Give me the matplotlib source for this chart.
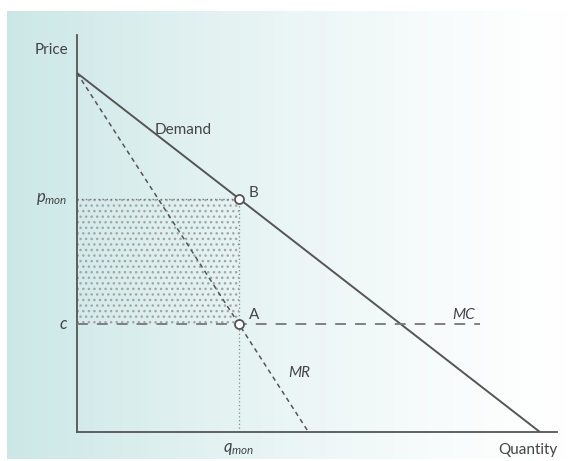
import numpy as np
import matplotlib
matplotlib.use("Agg")
import matplotlib.pyplot as plt
from matplotlib.patches import Rectangle

plt.rcParams["font.family"] = ["Lato", "DejaVu Sans"]
plt.rcParams["mathtext.fontset"] = "custom"
plt.rcParams["mathtext.it"] = "Lato:italic"
plt.rcParams["mathtext.rm"] = "Lato"
plt.rcParams["hatch.linewidth"] = 1.0

# monopoly model values (linear demand P = a - Q)
demand_q = [0.0, 10.0]
demand_p = [10.0, 0.0]
mr_q = [0.0, 5.0]
mr_p = [10.0, 0.0]
mc_q = [0.0, 8.7]
mc_p = [3.0, 3.0]
q_mon = 3.5
p_mon = 6.5
c = 3.0

INK = "#555555"
TXT = "#444444"

fig = plt.figure(figsize=(5.71, 4.61), dpi=100)

# gradient panel behind the chart
bg = fig.add_axes([0.012, 0.005, 0.98, 0.972], zorder=0)
grad = np.linspace(0, 1, 256)[None, :]
left = np.array([0.80, 0.905, 0.905])
right = np.array([1.0, 1.0, 1.0])
w = (1 - grad[..., None]) ** 1.3
img = left[None, None, :] * w + right[None, None, :] * (1 - w)
bg.imshow(img, aspect="auto", extent=[0, 1, 0, 1])
bg.set_axis_off()

ax = fig.add_axes([0.1349, 0.0629, 0.8406, 0.8612], zorder=1)
ax.patch.set_alpha(0)
ax.set_xlim(0, 10.37)
ax.set_ylim(0, 11.06)
for s in ("top", "right"):
    ax.spines[s].set_visible(False)
for s in ("left", "bottom"):
    ax.spines[s].set_color(INK)
    ax.spines[s].set_linewidth(1.3)
ax.set_xticks([])
ax.set_yticks([])

# stippled profit rectangle
ax.add_patch(Rectangle((0, c), q_mon, p_mon - c, facecolor="none",
                       edgecolor="#a5a5a5", lw=0, hatch="...", zorder=1))
ax.plot([0, q_mon], [p_mon, p_mon], color="#777777", lw=1.0, ls=(0, (1, 2)), zorder=2)
ax.plot([q_mon, q_mon], [0, p_mon], color="#888888", lw=0.9, ls=(0, (1, 2)), zorder=2)

# curves
ax.plot(demand_q, demand_p, color=INK, lw=1.4, zorder=3)
ax.plot(mr_q, mr_p, color=INK, lw=1.1, ls=(0, (3, 2.5)), zorder=3)
ax.plot(mc_q, mc_p, color="#777777", lw=1.3, ls=(0, (6, 5)), zorder=3)

# points A and B
ax.plot([q_mon, q_mon], [c, p_mon], ls="none", marker="o", ms=6.5,
        mfc="white", mec=INK, mew=1.3, zorder=5)

ax.text(q_mon + 0.2, p_mon + 0.15, "B", fontsize=11, color=TXT, ha="left", va="center")
ax.text(q_mon + 0.22, c + 0.25, "A", fontsize=11, color=TXT, ha="left", va="center")
ax.text(2.3, 8.4, "Demand", fontsize=11, color=TXT, ha="center", va="center")
ax.text(8.35, c + 0.25, "MC", fontsize=11, color=TXT, style="italic", ha="center", va="center")
ax.text(4.8, 1.65, "MR", fontsize=11, color=TXT, style="italic", ha="center", va="center")

ax.text(-0.2, p_mon, r"$p_{mon}$", fontsize=12, color=TXT, ha="right", va="center")
ax.text(-0.2, c, r"$c$", fontsize=12, color=TXT, ha="right", va="center")
ax.text(q_mon, -0.25, r"$q_{mon}$", fontsize=12, color=TXT, ha="center", va="top")
ax.text(-0.2, 10.65, "Price", fontsize=11, color=TXT, ha="right", va="center")
ax.text(10.37, -0.3, "Quantity", fontsize=11, color=TXT, ha="right", va="top")

fig.savefig("out.png", dpi=100)
